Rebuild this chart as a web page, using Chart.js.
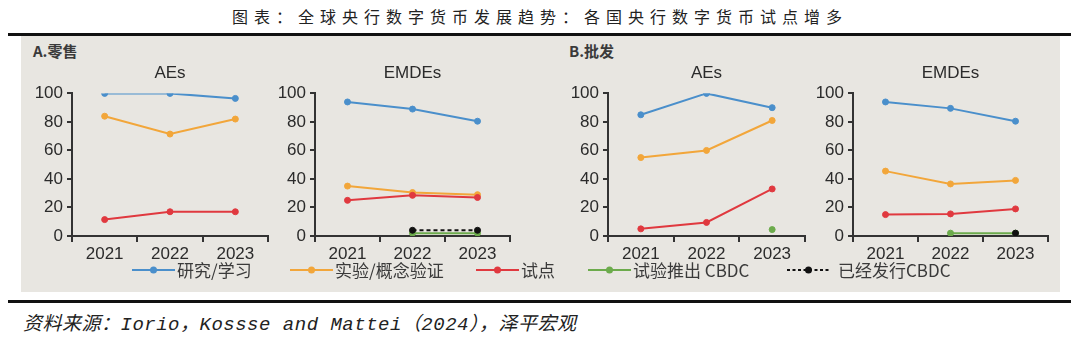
<!DOCTYPE html>
<html lang="zh">
<head>
<meta charset="UTF-8">
<title>全球央行数字货币发展趋势</title>
<script src="https://cdn.jsdelivr.net/npm/chart.js@4"></script>
<style>
    body {
        margin: 0;
        width: 1080px;
        height: 340px;
        background: #fff;
        position: relative;
        overflow: hidden;
        font-family: "Noto Sans CJK SC", sans-serif;
    }
    #title {
        position: absolute;
        top: 4px;
        left: 0;
        width: 1080px;
        text-align: center;
        font-size: 16px;
        letter-spacing: 6px;
        color: #222;
    }
    .rule {
        position: absolute;
        left: 8px;
        width: 1063px;
        height: 3px;
        background: #111;
    }
    #panel {
        position: absolute;
        left: 21px;
        top: 36px;
        width: 1039px;
        height: 256px;
        background: #e8e6e1;
    }
    .part {
        position: absolute;
        top: 40px;
        font-size: 15px;
        font-weight: bold;
        color: #3a3a3a;
    }
    canvas { position: absolute; top: 50px; }
    .key {
        position: absolute;
        top: 260px;
        font-size: 17px;
        line-height: 20px;
        color: #3a3a3a;
        white-space: nowrap;
    }
    .key svg { position: absolute; top: 5px; }
    #source {
        position: absolute;
        left: 23px;
        top: 308px;
        font-family: "Liberation Mono", "Noto Sans CJK SC", monospace;
        font-style: italic;
        font-size: 19px;
        letter-spacing: 0.5px;
        color: #222;
        white-space: nowrap;
    }
</style>
</head>
<body>

<div id="title">图表：全球央行数字货币发展趋势：各国央行数字货币试点增多</div>
<div class="rule" style="top:33px"></div>
<div id="panel"></div>
<div class="part" style="left:33px">A.零售</div>
<div class="part" style="left:569px">B.批发</div>

<canvas id="retailAEs" width="263" height="218" style="left:17px"></canvas>
<canvas id="retailEMDEs" width="262" height="218" style="left:260px"></canvas>
<canvas id="wholesaleAEs" width="264" height="218" style="left:553px"></canvas>
<canvas id="wholesaleEMDEs" width="262" height="218" style="left:798px"></canvas>

<div id="legend"></div>

<div class="rule" style="top:300px"></div>
<div id="source">资料来源：Iorio，Kossse and Mattei（2024），泽平宏观</div>

<script>
    const years = ['2021', '2022', '2023'];
    const yTicks = [0, 20, 40, 60, 80, 100];

    const seriesNames = ['研究/学习', '实验/概念验证', '试点', '试验推出 CBDC', '已经发行CBDC'];
    const seriesColors = ['#4a8fcb', '#f2a63a', '#e0393f', '#6cab4c', '#111111'];

    // A. 零售 — 发达经济体
    const retailAEsResearch = [100, 100, 96.5];
    const retailAEsPoc = [84, 71.5, 82];
    const retailAEsPilot = [11.5, 17, 17];
    const retailAEsLaunch = [null, null, null];
    const retailAEsIssued = [null, null, null];

    // A. 零售 — 新兴市场和发展中经济体
    const retailEMDEsResearch = [94, 89, 80.5];
    const retailEMDEsPoc = [35, 30.5, 29];
    const retailEMDEsPilot = [25, 28.5, 27];
    const retailEMDEsLaunch = [null, 2, 2];
    const retailEMDEsIssued = [null, 4, 4];

    // B. 批发 — 发达经济体
    const wholesaleAEsResearch = [85, 100, 90];
    const wholesaleAEsPoc = [55, 60, 81];
    const wholesaleAEsPilot = [5, 9.5, 33];
    const wholesaleAEsLaunch = [null, null, 4.5];
    const wholesaleAEsIssued = [null, null, null];

    // B. 批发 — 新兴市场和发展中经济体
    const wholesaleEMDEsResearch = [94, 89.5, 80.5];
    const wholesaleEMDEsPoc = [45.5, 36.5, 39];
    const wholesaleEMDEsPilot = [15, 15.5, 19];
    const wholesaleEMDEsLaunch = [null, 2, 2];
    const wholesaleEMDEsIssued = [null, null, 2];

    const axisColor = '#333';
    const textColor = '#2b2b2b';
    const tickFont = { family: 'Liberation Sans', size: 17 };

    function drawPanel(canvasId, panelTitle, rows) {
        new Chart(document.getElementById(canvasId), {
            type: 'line',
            data: {
                labels: years,
                datasets: rows.map((values, i) => ({
                    label: seriesNames[i],
                    data: values,
                    borderColor: seriesColors[i],
                    backgroundColor: seriesColors[i],
                    borderWidth: 2,
                    borderDash: i === 4 ? [4, 3] : [],
                    pointRadius: 3,
                    pointHoverRadius: 3,
                    pointBorderWidth: 1,
                    order: 4 - i
                }))
            },
            options: {
                responsive: false,
                animation: false,
                layout: { padding: { left: 0, right: 12, top: 0, bottom: 0 } },
                plugins: {
                    legend: { display: false },
                    tooltip: { enabled: false },
                    title: {
                        display: true,
                        text: panelTitle,
                        fullSize: false,
                        color: textColor,
                        font: { family: 'Liberation Sans', size: 17, weight: 'normal' },
                        padding: { top: 13, bottom: 10 }
                    }
                },
                scales: {
                    x: {
                        offset: true,
                        grid: { offset: true, drawOnChartArea: false, tickLength: 6, color: axisColor, lineWidth: 2 },
                        border: { color: axisColor, width: 2 },
                        ticks: { color: textColor, font: tickFont, padding: 2, maxRotation: 0 },
                        afterFit: scale => { scale.height = 32; }
                    },
                    y: {
                        min: 0,
                        max: 100,
                        afterBuildTicks: scale => { scale.ticks = yTicks.map(v => ({ value: v })); },
                        grid: { drawOnChartArea: false, tickLength: 5, color: axisColor, lineWidth: 2 },
                        border: { color: axisColor, width: 2 },
                        ticks: { color: textColor, font: tickFont, padding: 4 },
                        afterFit: scale => { scale.width = 55; }
                    }
                }
            }
        });
    }

    drawPanel('retailAEs', 'AEs',
        [retailAEsResearch, retailAEsPoc, retailAEsPilot, retailAEsLaunch, retailAEsIssued]);
    drawPanel('retailEMDEs', 'EMDEs',
        [retailEMDEsResearch, retailEMDEsPoc, retailEMDEsPilot, retailEMDEsLaunch, retailEMDEsIssued]);
    drawPanel('wholesaleAEs', 'AEs',
        [wholesaleAEsResearch, wholesaleAEsPoc, wholesaleAEsPilot, wholesaleAEsLaunch, wholesaleAEsIssued]);
    drawPanel('wholesaleEMDEs', 'EMDEs',
        [wholesaleEMDEsResearch, wholesaleEMDEsPoc, wholesaleEMDEsPilot, wholesaleEMDEsLaunch, wholesaleEMDEsIssued]);

    // legend: short line with a dot in the middle, then the name
    const keyLeft = [132, 290, 476, 588, 787];
    const legend = document.getElementById('legend');
    seriesNames.forEach((name, i) => {
        const color = seriesColors[i];
        const dash = i === 4 ? ' stroke-dasharray="3 2.5"' : '';
        const item = document.createElement('div');
        item.className = 'key';
        item.style.left = keyLeft[i] + 'px';
        item.style.paddingLeft = (i === 4 ? 51 : 45) + 'px';
        item.innerHTML =
            `<svg width="46" height="10" style="left:0">` +
            `<line x1="0" y1="5" x2="43" y2="5" stroke="${color}" stroke-width="2"${dash}/>` +
            `<circle cx="21.5" cy="5" r="3.5" fill="${color}"/></svg>` + name;
        legend.appendChild(item);
    });
</script>

</body>
</html>
